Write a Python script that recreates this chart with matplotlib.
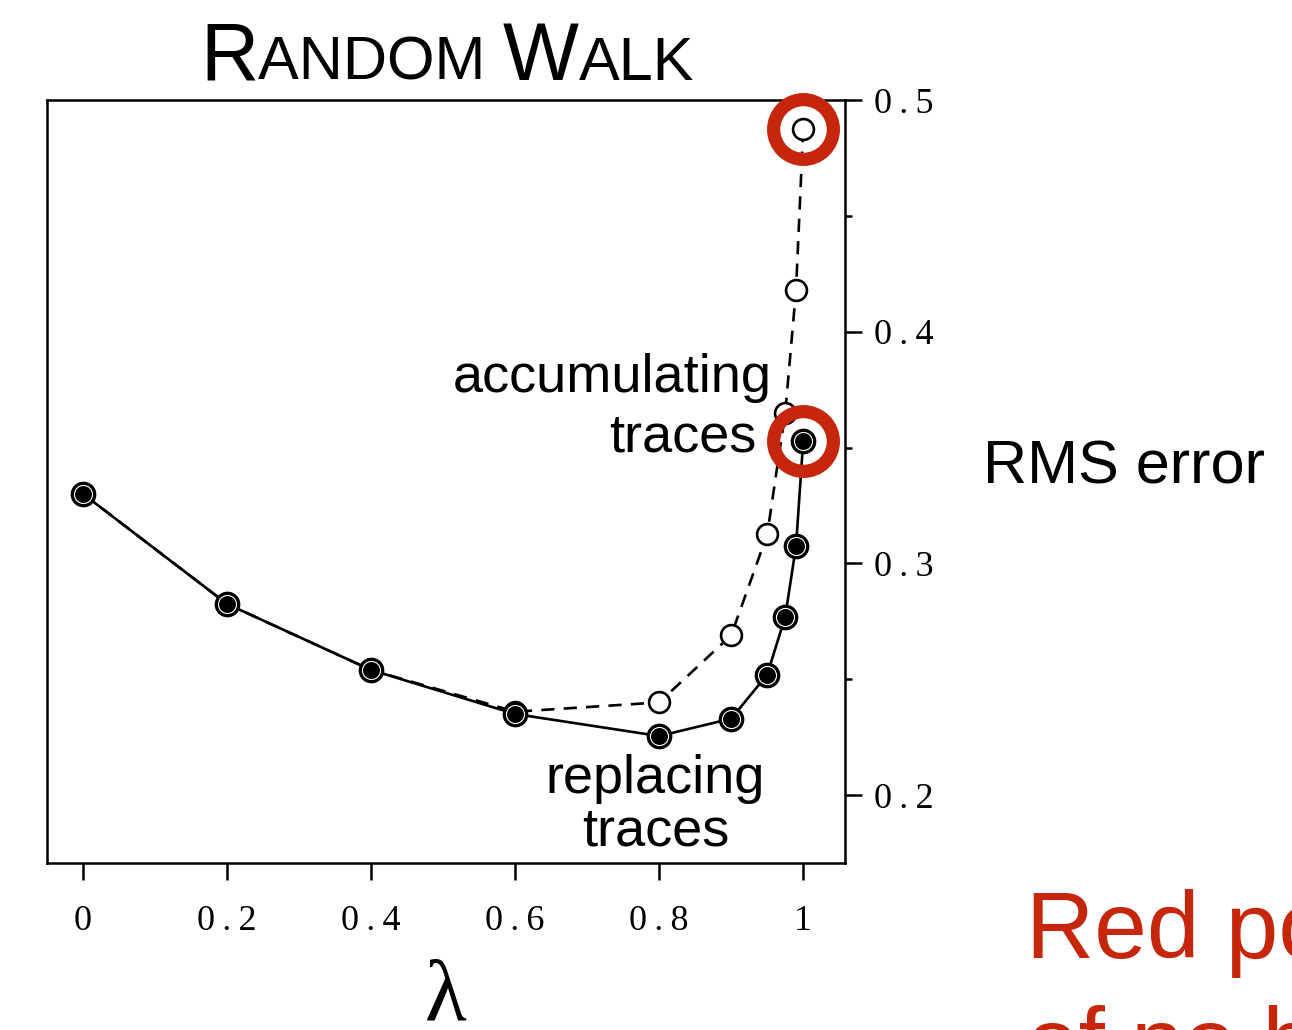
import matplotlib
matplotlib.use("Agg")
import matplotlib.pyplot as plt
from matplotlib.offsetbox import TextArea, HPacker, AnchoredOffsetbox

# values
lam = [0, 0.2, 0.4, 0.6, 0.8, 0.9, 0.95, 0.975, 0.99, 1.0]
replacing = [0.330, 0.2825, 0.254, 0.235, 0.2255, 0.233, 0.252, 0.277, 0.3075, 0.353]
accumulating = [0.330, 0.2825, 0.254, 0.236, 0.240, 0.269, 0.3125, 0.365, 0.418, 0.4875]
highlight_lam = [1.0, 1.0]
highlight_err = [0.4875, 0.353]
xticks = [0, 0.2, 0.4, 0.6, 0.8, 1.0]
xticklabels = ["0", "0.2", "0.4", "0.6", "0.8", "1"]
yticks = [0.2, 0.3, 0.4, 0.5]
yticklabels = ["0.2", "0.3", "0.4", "0.5"]
yminor = [0.25, 0.35, 0.45]

red = "#c6260c"
serif = "Liberation Serif"
sans = "Liberation Sans"


def spaced(s):
    # the scanned tick labels are letter-spaced
    return "\u2009".join(s)


W, H = 1292, 1030
fig = plt.figure(figsize=(W / 100, H / 100), dpi=100)
ax = fig.add_axes([47 / W, 1 - 863 / H, (845 - 47) / W, (863 - 100) / H])

ax.plot(lam, accumulating, color="black", lw=1.9, ls=(0, (5, 3.5)),
        marker="o", ms=15, mfc="white", mec="black", mew=1.9, zorder=2)
ax.plot(lam, replacing, color="black", lw=1.9, marker="o", ms=17,
        mfc="black", mec="black", mew=1.5, zorder=3)
ax.plot(lam, replacing, ls="none", marker="o", ms=13, mfc="black",
        mec="white", mew=0.8, zorder=4)
ax.plot(highlight_lam, highlight_err, ls="none", marker="o", ms=43,
        mfc="none", mec=red, mew=9.5, zorder=5, clip_on=False)

ax.set_xlim(-0.05, 1.058)
ax.set_ylim(0.1707, 0.5)
for s in ax.spines.values():
    s.set_linewidth(1.8)

ax.set_xticks(xticks)
ax.set_xticklabels([spaced(t) for t in xticklabels], fontfamily=serif, fontsize=26)
ax.yaxis.tick_right()
ax.set_yticks(yticks)
ax.set_yticklabels([spaced(t) for t in yticklabels], fontfamily=serif, fontsize=26)
ax.set_yticks(yminor, minor=True)
ax.tick_params(axis="x", direction="out", length=12, width=1.8, pad=18)
ax.tick_params(axis="y", which="major", direction="out", length=12, width=1.8, pad=9)
ax.tick_params(axis="y", which="minor", direction="out", length=5, width=1.8)
ax.set_xlabel("λ", fontfamily=serif, fontsize=62, labelpad=15)

ax.text(772 / W, 1 - 392 / H, "accumulating", transform=fig.transFigure,
        ha="right", va="baseline", fontfamily=sans, fontsize=39)
ax.text(757 / W, 1 - 452 / H, "traces", transform=fig.transFigure,
        ha="right", va="baseline", fontfamily=sans, fontsize=39)
ax.text(655 / W, 1 - 793 / H, "replacing", transform=fig.transFigure,
        ha="center", va="baseline", fontfamily=sans, fontsize=39)
ax.text(656 / W, 1 - 845 / H, "traces", transform=fig.transFigure,
        ha="center", va="baseline", fontfamily=sans, fontsize=39)

fig.text(983 / W, 1 - 484 / H, "RMS error", ha="left", va="baseline",
         fontfamily=sans, fontsize=44)
fig.text(1026 / W, 1 - 958 / H, "Red points are results", ha="left",
         va="baseline", fontfamily=sans, fontsize=68, color=red)
fig.text(1026 / W, 1 - 1074 / H, "of no bootstrapping", ha="left",
         va="baseline", fontfamily=sans, fontsize=68, color=red)

# small caps title
big = dict(fontfamily=sans, fontsize=58)
small = dict(fontfamily=sans, fontsize=44)
parts = [TextArea("R", textprops=big), TextArea("ANDOM ", textprops=small),
         TextArea("W", textprops=big), TextArea("ALK", textprops=small)]
title = HPacker(children=parts, align="baseline", pad=0, sep=0)
fig.add_artist(AnchoredOffsetbox(loc="lower center", child=title, pad=0,
                                 borderpad=0, frameon=False,
                                 bbox_to_anchor=(447 / W, 1 - 97 / H),
                                 bbox_transform=fig.transFigure))

fig.savefig("out.png", dpi=100)
